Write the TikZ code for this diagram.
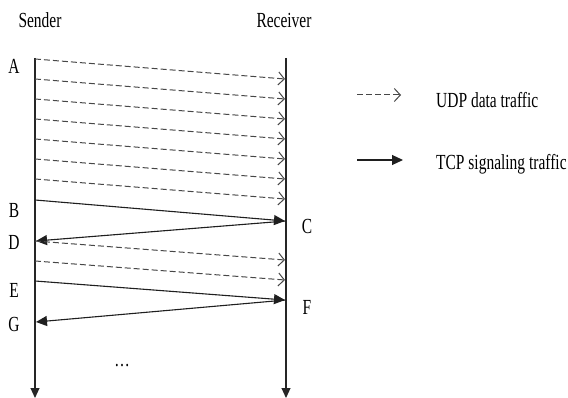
\documentclass[tikz,border=0pt]{standalone}
\usepackage{fontspec}
\setmainfont{Liberation Serif}
\usetikzlibrary{arrows.meta}
\newcommand\narrowtxt[1]{\scalebox{0.72}[1]{#1}}
\begin{document}
\begin{tikzpicture}[x=1pt,y=-1pt,
 lbl/.style={font=\fontsize{21.5}{24}\selectfont, inner sep=0pt, text=black},
 life/.style={line width=1.1pt, draw=black!85, -{Triangle[length=10pt,width=9pt]}},
 udp/.style={line width=1pt, draw=black!72, dash pattern=on 6pt off 3pt, -{Straight Barb[length=6pt,width=13pt]}},
 tcp/.style={line width=1.1pt, draw=black!88, -{Triangle[length=11pt,width=10pt]}}]
\useasboundingbox (0,0) rectangle (568,398);
% lifelines
\coordinate (stop) at (35,58);
\coordinate (sbot) at (35,398);
\coordinate (rtop) at (286,58);
\coordinate (rbot) at (286,398);
\draw[life] (stop) -- (sbot);
\draw[life] (rtop) -- (rbot);
% headers
\node[lbl] (sender) at (40,20) {\narrowtxt{Sender}};
\node[lbl] (receiver) at (284,20) {\narrowtxt{Receiver}};
% UDP burst
\foreach \i in {0,...,6}{
  \coordinate (s\i) at (35,{59+20*\i});
  \coordinate (r\i) at (285,{79+20*\i});
  \draw[udp] (s\i) -- (r\i);
}
% signaling
\coordinate (pB) at (35,200);
\coordinate (pC) at (285,221);
\coordinate (pD) at (36,241);
\coordinate (pC2) at (286,221);
\draw[tcp] (pB) -- (pC);
\draw[tcp] (pC2) -- (pD);
\coordinate (s7) at (35,241);
\coordinate (r7) at (285,260);
\coordinate (s8) at (35,261);
\coordinate (r8) at (285,280);
\draw[udp] (s7) -- (r7);
\draw[udp] (s8) -- (r8);
\coordinate (pE) at (35,281);
\coordinate (pF) at (285,300);
\coordinate (pF2) at (286,300);
\coordinate (pG) at (36,322);
\draw[tcp] (pE) -- (pF);
\draw[tcp] (pF2) -- (pG);
% point labels
\node[lbl] (A) at (14,66) {\narrowtxt{A}};
\node[lbl] (B) at (14,210) {\narrowtxt{B}};
\node[lbl] (C) at (307,226) {\narrowtxt{C}};
\node[lbl] (D) at (14,242) {\narrowtxt{D}};
\node[lbl] (E) at (14,290) {\narrowtxt{E}};
\node[lbl] (F) at (307,307) {\narrowtxt{F}};
\node[lbl] (G) at (14,324) {\narrowtxt{G}};
\node[lbl] (dots) at (122,366) {\narrowtxt{\dots}};
% legend
\coordinate (lu1) at (357,95);
\coordinate (lu2) at (401,95);
\coordinate (lt1) at (357,160);
\coordinate (lt2) at (403,160);
\draw[udp] (lu1) -- (lu2);
\draw[tcp] (lt1) -- (lt2);
\node[lbl, anchor=west] (udptxt) at (436,100) {\narrowtxt{UDP data traffic}};
\node[lbl, anchor=west] (tcptxt) at (436,164) {\narrowtxt{TCP signaling traffic}};
\end{tikzpicture}
\end{document}
